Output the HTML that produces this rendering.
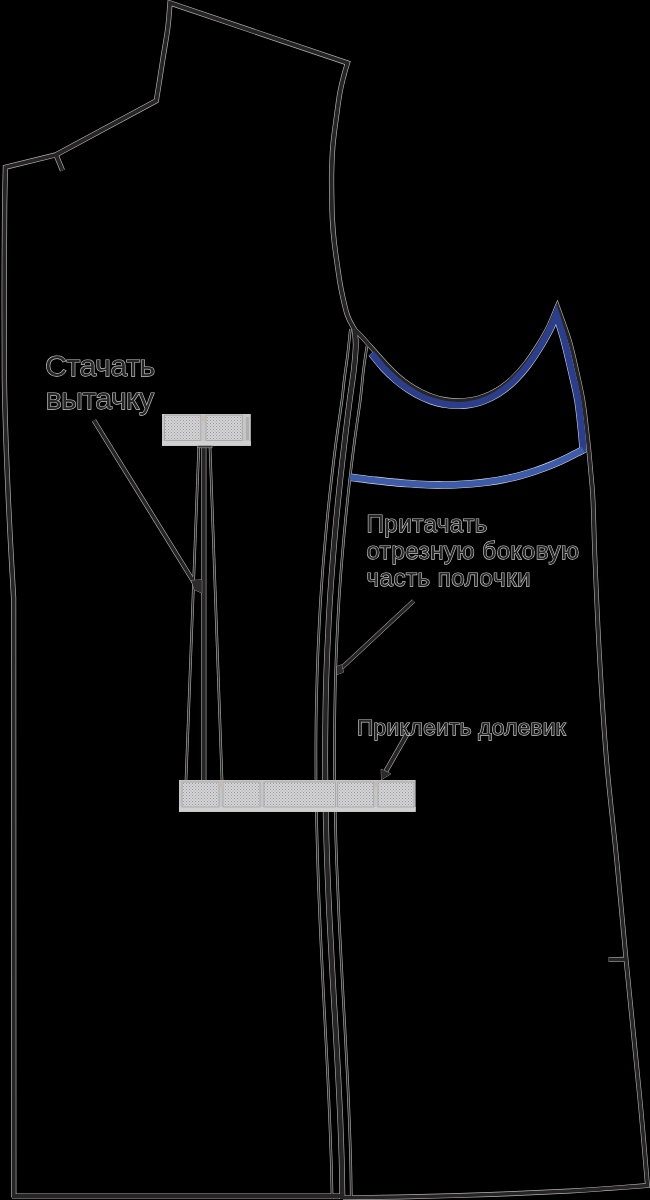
<!DOCTYPE html>
<html><head><meta charset="utf-8">
<style>
html,body{margin:0;padding:0;background:#000;width:650px;height:1200px;overflow:hidden}
svg{display:block}
.h use,.h path{fill:none;stroke:#b4b4b4}
.c use,.c path{fill:none;stroke:#272425}
text{font-family:"Liberation Sans",sans-serif;fill:#262626;stroke:#c8c8c8;stroke-width:1.25px;paint-order:stroke}
</style></head>
<body>
<svg width="650" height="1200" viewBox="0 0 650 1200">
<defs>
  <pattern id="tex" width="3" height="3" patternUnits="userSpaceOnUse">
    <rect width="3" height="3" fill="#d4d4d6"/>
    <rect x="0" y="0" width="1" height="1" fill="#9a9a9e"/>
    <rect x="1.5" y="1.5" width="1" height="1" fill="#a4a4a8"/>
  </pattern>
  <path id="front" d="M13.8 1197.5 L13.6 598 C13.2 590.3 11.8 567.5 11 552 C10.2 536.5 9.4 523.3 8.6 505 C7.8 486.7 6.7 462.8 6 442 C5.3 421.2 4.7 403.7 4.4 380 C4.1 356.3 4.2 328.3 4.2 300 C4.2 271.7 4.4 232.1 4.6 210 C4.8 187.9 5.3 174.3 5.4 167.2 L56 154.8 L156.3 100.8 C156.8 97.7 158.1 89.6 159.3 82 C160.5 74.4 162.1 64 163.5 55 C164.9 46 166.7 36.7 167.8 28 C168.9 19.3 169.6 7.2 170 3 L347.5 63 C346.9 65 345.3 70 344 75 C342.7 80 341.1 85.8 339.8 93.3 C338.5 100.8 337.2 111.1 336 120 C334.8 128.9 333.5 137.9 332.8 146.7 C332.1 155.5 331.8 164.1 331.6 173 C331.4 181.9 331.7 192.2 331.8 200 C331.9 207.8 332 213.3 332.4 220 C332.8 226.7 333.2 232.5 334 240 C334.8 247.5 336.1 256.7 337.3 265 C338.5 273.3 339.6 281.7 341.3 290 C343 298.3 345.1 308.4 347.3 315 C349.5 321.6 353.3 327.1 354.5 329.5"/>
  <path id="notch1" d="M56 154.8 L62.5 170.5"/>
  <path id="bot1" d="M12 1196 L343 1196"/>
  <path id="side" d="M354.5 329.5 C355.8 330.8 356.6 331.1 362 337 C367.4 342.9 380.7 358.2 386.8 364.7 C392.9 371.2 394.6 372.7 398.4 376 C402.3 379.4 406.2 382.3 410 384.9 C413.9 387.5 417.7 389.7 421.5 391.6 C425.3 393.5 429.2 395.1 433 396.4 C436.8 397.7 440.5 398.7 444.3 399.4 C448.1 400.1 451.9 400.5 455.6 400.7 C459.4 400.8 463.1 400.6 466.9 400.1 C470.7 399.7 474.4 399 478.2 398 C482.1 396.9 485.9 395.5 489.8 393.7 C493.6 391.8 497.5 389.6 501.5 386.9 C505.4 384.1 509.4 380.9 513.3 377.1 C517.3 373.2 521.2 369.1 525.3 363.7 C529.4 358.4 534.3 351.1 538.2 344.9 C542 338.7 545.3 333.2 548.5 326.7 C551.7 320.2 555.8 309.4 557.3 306 C559.3 311.7 566 329.3 569.2 340 C572.4 350.7 574.2 360 576.5 370 C578.8 380 581.1 390 582.8 400 C584.5 410 585.6 421.7 586.6 430 C587.6 438.3 588.1 443.3 588.8 450 C589.5 456.7 589.9 461.7 590.6 470 C591.3 478.3 592.3 485 593 500 C593.7 515 593.9 533.3 595 560 C596.1 586.7 597.8 626.7 599.7 660 C601.6 693.3 603.7 726.7 606.5 760 C609.3 793.3 613.5 826.8 616.7 860 C620 893.2 622.1 919 626 959 C629.9 999 636.4 1062.2 640 1100 C643.6 1137.8 646.2 1171.2 647.5 1185.5 C641.2 1186 622.9 1187.4 610 1188.3 C597.1 1189.2 590 1190 570 1191 C550 1192 518.3 1193.5 490 1194.5 C461.7 1195.5 424.5 1196.5 400 1197 C375.5 1197.5 352.5 1197.7 343 1197.8"/>
  <path id="notch2" d="M608.5 959.6 L626 959.2"/>
  <path id="seam" d="M354.5 329.5 C354.7 332.1 355.9 338.2 355.8 345 C355.7 351.8 354.8 360.8 353.8 370 C352.8 379.2 351.2 388.3 349.7 400 C348.2 411.7 346.4 426.7 344.8 440 C343.2 453.3 341.7 466.7 340.2 480 C338.8 493.3 337.5 506.7 336.2 520 C335 533.3 333.8 546.7 332.8 560 C331.7 573.3 330.8 586.7 329.9 600 C329.1 613.3 328.4 626.7 327.8 640 C327.1 653.3 326.6 666.7 326.2 680 C325.8 693.3 325.5 706.7 325.4 720 C325.2 733.3 325.1 746.7 325.1 760 C325.2 773.3 325.3 786.7 325.5 800 C325.7 813.3 326 826.7 326.4 840 C326.8 853.3 327.3 866.7 327.8 880 C328.3 893.3 329 906.7 329.6 920 C330.3 933.3 331 946.7 331.7 960 C332.4 973.3 333.2 986.7 333.9 1000 C334.7 1013.3 335.5 1026.7 336.2 1040 C337 1053.3 337.7 1066.7 338.4 1080 C339.1 1093.3 339.7 1106.7 340.3 1120 C340.8 1133.3 341.3 1146.8 341.7 1160 C342 1173.2 342.3 1192.5 342.4 1199"/>
  <path id="thin1" d="M350.4 329 C349.9 333.3 348.6 346.5 347.6 355 C346.6 363.5 345.1 372.5 344.2 380 C343.3 387.5 343.3 390 342 400 C340.7 410 338.1 426.7 336.3 440 C334.6 453.3 332.9 466.7 331.4 480 C329.8 493.3 328.4 506.7 327.1 520 C325.8 533.3 324.6 546.7 323.5 560 C322.4 573.3 321.5 586.7 320.6 600 C319.8 613.3 319.1 626.7 318.5 640 C317.8 653.3 317.4 666.7 317 680 C316.6 693.3 316.3 706.7 316.1 720 C315.9 733.3 315.9 746.7 315.9 760 C315.9 773.3 316 786.7 316.2 800 C316.4 813.3 316.7 826.7 317.1 840 C317.4 853.3 317.8 866.7 318.3 880 C318.8 893.3 319.3 906.7 319.9 920 C320.5 933.3 321.1 946.7 321.8 960 C322.4 973.3 323.1 986.7 323.8 1000 C324.5 1013.3 325.2 1026.7 325.9 1040 C326.6 1053.3 327.3 1066.7 327.9 1080 C328.5 1093.3 329.2 1106.7 329.7 1120 C330.2 1133.3 330.8 1146.8 331.2 1160 C331.6 1173.2 332 1192.5 332.1 1199"/>
  <path id="thin3" d="M367 346 C366.4 350 364.6 361 363.5 370 C362.4 379 361.7 388.3 360.3 400 C358.8 411.7 356.4 426.7 354.7 440 C352.9 453.3 351.3 466.7 349.7 480 C348.2 493.3 346.8 506.7 345.5 520 C344.2 533.3 343 546.7 341.9 560 C340.8 573.3 339.9 586.7 339 600 C338.2 613.3 337.5 626.7 336.9 640 C336.3 653.3 335.8 666.7 335.4 680 C335.1 693.3 334.8 706.7 334.7 720 C334.5 733.3 334.5 746.7 334.5 760 C334.6 773.3 334.7 786.7 335 800 C335.2 813.3 335.5 826.7 335.9 840 C336.3 853.3 336.8 866.7 337.4 880 C337.9 893.3 338.5 906.7 339.1 920 C339.8 933.3 340.5 946.7 341.2 960 C341.9 973.3 342.6 986.7 343.3 1000 C344.1 1013.3 344.8 1026.7 345.5 1040 C346.2 1053.3 346.9 1066.7 347.6 1080 C348.2 1093.3 348.8 1106.7 349.3 1120 C349.8 1133.3 350.3 1146.8 350.6 1160 C351 1173.2 351.2 1192.5 351.3 1199"/>
  <path id="dartL" d="M198.8 446.5 L186 780"/>
  <path id="dartR" d="M210 446.5 L222 780"/>
  <path id="dartC" d="M203.9 446 L203.9 780"/>
  <path id="lead1" d="M94 420.5 L195 584"/>
  <path id="lead2" d="M413.5 601 L341 668.5"/>
  <path id="lead3" d="M407.7 733 L386 771"/>
  <path id="blue1" d="M371.5 353.3 C373.5 355.7 379.5 363.4 383.5 367.8 C387.5 372.1 391.5 375.9 395.5 379.4 C399.5 382.9 403.5 385.9 407.5 388.6 C411.5 391.3 415.5 393.6 419.5 395.6 C423.5 397.6 427.5 399.3 431.5 400.7 C435.5 402 439.5 403.1 443.5 403.8 C447.5 404.6 451.5 405 455.5 405.1 C459.5 405.3 463.5 405.1 467.5 404.6 C471.5 404 475.5 403.2 479.5 402 C483.5 400.7 487.5 399.1 491.5 397.1 C495.5 395 499.5 392.6 503.5 389.6 C507.5 386.7 511.5 383.3 515.5 379.2 C519.5 375.2 523.4 370.9 527.5 365.4 C531.6 359.9 536.4 352.5 540.3 346.2 C544.1 339.9 548 333.1 550.6 327.7 C553.2 322.3 555.3 316.3 556.2 314 C557.5 318.3 561.7 330.7 564.2 340 C566.7 349.3 569.1 360 571.4 370 C573.7 380 576.3 390 578 400 C579.7 410 580.7 421.8 581.6 430 C582.5 438.2 583 446.2 583.3 449.5 L585 448.6"/>
  <path id="blue2" d="M583.3 449.5 C580.6 450.9 572.6 455.3 567.3 457.9 C562 460.5 556.6 462.9 551.3 465.1 C546 467.3 540.6 469.2 535.3 471 C530 472.8 524.6 474.4 519.3 475.8 C514 477.2 508.6 478.4 503.3 479.4 C498 480.5 492.6 481.3 487.3 482.1 C482 482.8 476.6 483.4 471.3 483.8 C466 484.2 460.6 484.5 455.3 484.7 C450 484.9 444.6 485 439.3 484.9 C434 484.9 428.6 484.7 423.3 484.5 C418 484.3 412.6 483.9 407.3 483.5 C402 483.1 396.6 482.7 391.3 482.1 C386 481.6 380.6 481 375.3 480.4 C370 479.8 363.5 478.9 359.3 478.4 C355.1 477.9 351.6 477.4 350 477.2"/>
</defs>

<rect width="650" height="1200" fill="#000"/>

<g class="h">
  <use href="#front" stroke-width="5.2"/>
  <use href="#notch1" stroke-width="5.2"/>
  <use href="#bot1" stroke-width="5.2"/>
  <use href="#side" stroke-width="4.8"/>
  <use href="#notch2" stroke-width="4.8"/>
  <use href="#seam" stroke-width="5.8"/>
  <use href="#thin1" stroke-width="2.6"/>
  <use href="#thin3" stroke-width="2.6"/>
  <use href="#dartL" stroke-width="2.6"/>
  <use href="#dartR" stroke-width="2.6"/>
  <use href="#dartC" stroke-width="5"/>
  <use href="#lead1" stroke-width="4.6"/>
  <use href="#lead2" stroke-width="4.4"/>
  <use href="#lead3" stroke-width="5"/>
  <use href="#blue1" stroke-width="7.8" stroke-linejoin="miter" style="stroke:#c8cde0"/>
  <use href="#blue2" stroke-width="7.6" style="stroke:#d0d6ea"/>
</g>
<g class="c">
  <use href="#front" stroke-width="3.9"/>
  <use href="#notch1" stroke-width="3.9"/>
  <use href="#bot1" stroke-width="4"/>
  <use href="#side" stroke-width="3.6"/>
  <use href="#notch2" stroke-width="3.6"/>
  <use href="#seam" stroke-width="4.6"/>
  <use href="#thin1" stroke-width="1.4"/>
  <use href="#thin3" stroke-width="1.4"/>
  <use href="#dartL" stroke-width="1.4"/>
  <use href="#dartR" stroke-width="1.4"/>
  <use href="#dartC" stroke-width="3.8"/>
  <use href="#lead1" stroke-width="3.4"/>
  <use href="#lead2" stroke-width="3.2"/>
  <use href="#lead3" stroke-width="3.8"/>
</g>
<use href="#blue1" fill="none" stroke="#2c3d8a" stroke-width="6.6" stroke-linejoin="miter"/>
<use href="#blue2" fill="none" stroke="#3d5ba6" stroke-width="6.4"/>

<!-- arrowheads -->
<g fill="#2c2a2b" stroke="#b0b0b0" stroke-width="0.8" paint-order="stroke">
  <path d="M191.5 580.5 L201.8 579.8 L201.8 593 L194.2 589.5 Z"/>
  <path d="M336.8 666.5 L341.5 664.8 L343.5 672.2 L336.8 674.5 Z"/>
  <path d="M381.5 779.6 L381.2 769.2 L390.8 773.8 Z"/>
</g>

<!-- upper interlining -->
<g>
<rect x="162" y="414" width="88.8" height="31.8" fill="#c6c6c6"/>
<rect x="162" y="441" width="88.8" height="4.8" fill="#d0d0d0"/>
<rect x="164.6" y="415.2" width="36.2" height="25.2" fill="url(#tex)" stroke="#a4a4a4" stroke-width="0.8"/>
<rect x="206" y="415.2" width="36.3" height="25.2" fill="url(#tex)" stroke="#a4a4a4" stroke-width="0.8"/>
<rect x="201.5" y="415" width="4" height="6" fill="#c6bcb2"/>
<rect x="246" y="417" width="3" height="23" fill="#b0b0b0"/>
</g>
<rect x="197.8" y="445.8" width="14.2" height="2" fill="#272425" stroke="#a8a8a8" stroke-width="0.6"/>
<!-- lower interlining -->
<g>
<rect x="179" y="780" width="236.6" height="31.8" fill="#c6c6c6"/>
<rect x="179" y="807" width="236.6" height="4.8" fill="#d0d0d0"/>
<rect x="182" y="782" width="37" height="25" fill="url(#tex)" stroke="#a4a4a4" stroke-width="0.8"/>
<rect x="223" y="782" width="37" height="25" fill="url(#tex)" stroke="#a4a4a4" stroke-width="0.8"/>
<rect x="264" y="782" width="71.5" height="25" fill="url(#tex)" stroke="#a4a4a4" stroke-width="0.8"/>
<rect x="337.7" y="782" width="36" height="25" fill="url(#tex)" stroke="#a4a4a4" stroke-width="0.8"/>
<rect x="378" y="782" width="36" height="25" fill="url(#tex)" stroke="#a4a4a4" stroke-width="0.8"/>
<rect x="219.5" y="781" width="3.5" height="6" fill="#c6bcb2"/>
<rect x="374" y="781" width="3.5" height="6" fill="#c6bcb2"/>
</g>
<!-- texts -->
<g style="will-change:transform">
<text x="45.3" y="375.8" font-size="30" letter-spacing="-0.38">Стачать</text>
<text x="45.8" y="409" font-size="30" letter-spacing="-0.45">вытачку</text>
<text x="366.5" y="531.8" font-size="24" letter-spacing="0.55">Притачать</text>
<text x="366.5" y="559" font-size="24" letter-spacing="0.55">отрезную боковую</text>
<text x="366.5" y="586" font-size="24" letter-spacing="0.55">часть полочки</text>
<text x="357" y="734.5" font-size="22.6" letter-spacing="0.3">Приклеить долевик</text>
</g>
</svg>
</body></html>
